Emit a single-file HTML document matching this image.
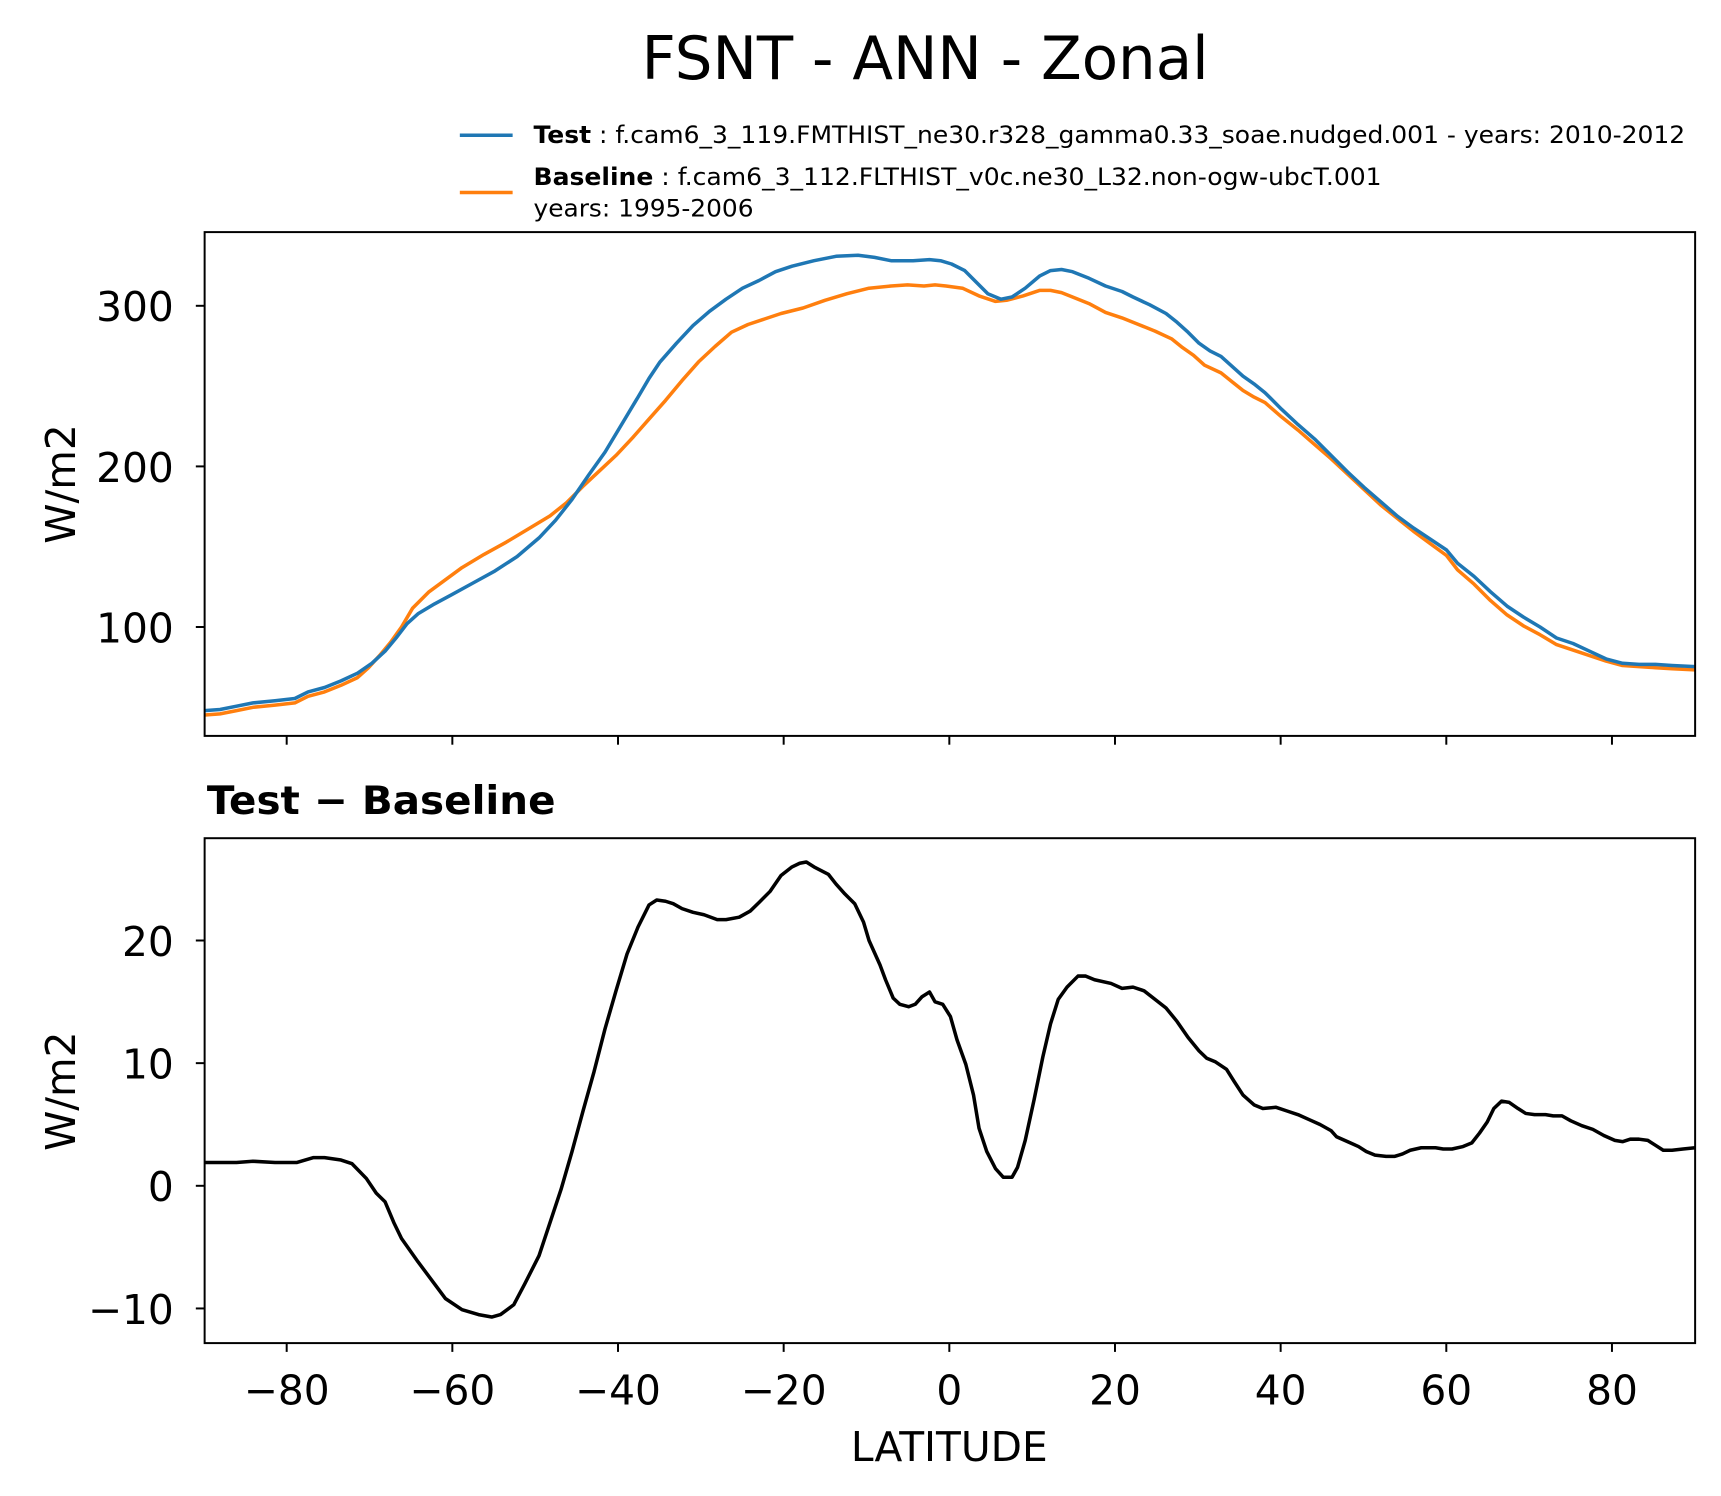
<!DOCTYPE html>
<html><head><meta charset="utf-8"><style>html,body{margin:0;padding:0;background:#fff}svg{display:block}</style></head>
<body>
<svg id="s" width="1721" height="1496" viewBox="0 0 1564.5 1360" xmlns="http://www.w3.org/2000/svg" font-family="'DejaVu Sans', 'Liberation Sans', sans-serif">
<rect width="1564.5" height="1360" fill="#fff"/>
<text x="841" y="72" font-size="54" text-anchor="middle">FSNT - ANN - Zonal</text>
<line x1="418" y1="123" x2="466" y2="123" stroke="#1f77b4" stroke-width="3.2"/>
<text x="485" y="130" font-size="21.5" textLength="1047" lengthAdjust="spacingAndGlyphs"><tspan font-weight="bold">Test</tspan> : f.cam6_3_119.FMTHIST_ne30.r328_gamma0.33_soae.nudged.001 - years: 2010-2012</text>
<line x1="418" y1="175" x2="466" y2="175" stroke="#ff7f0e" stroke-width="3.2"/>
<text x="485" y="168" font-size="21.5" textLength="771" lengthAdjust="spacingAndGlyphs"><tspan font-weight="bold">Baseline</tspan> : f.cam6_3_112.FLTHIST_v0c.ne30_L32.non-ogw-ubcT.001</text>
<text x="485" y="197" font-size="21.5" textLength="200" lengthAdjust="spacingAndGlyphs">years: 1995-2006</text>
<defs><clipPath id="c1"><rect x="186" y="211" width="1355" height="458"/></clipPath><clipPath id="c2"><rect x="186" y="762" width="1355" height="459"/></clipPath></defs>
<g id="top" clip-path="url(#c1)"></g>
<g id="bot" clip-path="url(#c2)"></g>
<rect x="186" y="211" width="1355" height="458" fill="none" stroke="#000" stroke-width="1.8"/>
<rect x="186" y="762" width="1355" height="459" fill="none" stroke="#000" stroke-width="1.8"/>
<g id="ticks" stroke="#000" stroke-width="1.8"></g>
<g id="lab" font-size="37"></g>
<text x="188" y="740" font-size="36" font-weight="bold" textLength="317" lengthAdjust="spacingAndGlyphs">Test − Baseline</text>
<text x="863" y="1328" font-size="37" text-anchor="middle">LATITUDE</text>
<text transform="translate(68,440) rotate(-90)" font-size="37" text-anchor="middle">W/m2</text>
<text transform="translate(68,992) rotate(-90)" font-size="37" text-anchor="middle">W/m2</text>
</svg>
<script>
var NS="http://www.w3.org/2000/svg";
function el(p,t,a,txt){var e=document.createElementNS(NS,t);for(var k in a)e.setAttribute(k,a[k]);if(txt!=null)e.textContent=txt;document.getElementById(p).appendChild(e);}
var blue=[186,646,200,645,215,642,230,639,250,637,268,635,280,629,295,625,310,619,325,612,338,603,350,592,360,580,370,567,380,558,395,549,410,541,430,530,450,519,470,506,490,489,505,473,520,454,535,432,550,411,565,386,580,361,590,344,600,329,615,312,630,296,645,283,660,272,675,262,690,255,705,247,720,242,740,237,760,233,780,232,795,234,810,237,830,237,845,236,855,237,865,240,877,246,888,257,898,267,910,272,920,270,932,262,945,251,955,246,965,245,975,247,990,253,1005,260,1020,265,1030,270,1045,277,1060,285,1070,293,1080,302,1090,312,1100,319,1110,324,1120,333,1130,342,1140,349,1150,357,1165,372,1180,386,1195,399,1210,414,1225,429,1240,443,1255,456,1270,469,1285,480,1300,490,1315,500,1325,512,1340,524,1355,538,1370,551,1385,561,1400,570,1415,580,1430,585,1445,592,1460,599,1475,603,1490,604,1505,604,1520,605,1541,606];
var orng=[186,650,200,649,215,646,230,643,250,641,268,639,280,633,295,629,310,623,325,616,335,607,345,596,355,584,365,570,375,553,390,538,405,527,420,516,440,504,460,493,480,481,500,469,515,457,530,442,545,428,560,414,575,398,590,381,605,364,620,346,635,329,650,315,665,302,680,295,695,290,710,285,730,280,750,273,770,267,790,262,810,260,825,259,840,260,850,259,860,260,875,262,890,269,905,274,915,273,930,269,945,264,955,264,965,266,975,270,990,276,1005,284,1020,289,1035,295,1050,301,1065,308,1075,316,1085,323,1095,332,1110,339,1120,347,1130,355,1140,361,1150,366,1165,379,1180,391,1195,404,1210,417,1225,431,1240,445,1255,459,1270,471,1285,483,1300,494,1315,505,1325,518,1340,531,1355,546,1370,559,1385,569,1400,577,1415,586,1430,591,1445,596,1460,601,1475,605,1490,606,1505,607,1520,608,1541,609];
var d=[186,1.9,215,1.9,230,2.0,250,1.9,270,1.9,285,2.3,295,2.3,310,2.1,320,1.8,333,0.6,342,-0.6,350,-1.3,358,-3,365,-4.3,380,-6.2,395,-8,405,-9.2,420,-10.1,435,-10.5,447,-10.7,455,-10.5,467,-9.7,477,-8,490,-5.7,500,-3,510,-0.3,520,2.8,530,6.1,540,9.3,550,12.8,560,15.9,570,18.9,580,21.1,590,22.9,597,23.3,605,23.2,612,23.0,620,22.6,630,22.3,640,22.1,652,21.7,660,21.7,672,21.9,682,22.4,690,23.1,700,24.0,710,25.3,720,26.0,727,26.3,733,26.4,740,26.0,753,25.4,760,24.6,768,23.8,777,23.0,785,21.5,790,20.0,800,18,805,16.8,812,15.3,818,14.8,826,14.6,832,14.8,838,15.4,845,15.8,850,15.0,857,14.8,864,13.8,870,11.9,878,9.9,885,7.4,890,4.7,897,2.8,905,1.4,912,0.7,920,0.7,925,1.5,932,3.7,940,7,948,10.5,955,13.2,962,15.2,970,16.2,980,17.1,987,17.1,995,16.8,1010,16.5,1020,16.1,1030,16.2,1040,15.9,1050,15.2,1060,14.5,1070,13.4,1080,12.1,1090,11.0,1097,10.4,1105,10.1,1115,9.5,1122,8.5,1130,7.4,1140,6.6,1148,6.3,1160,6.4,1170,6.1,1180,5.8,1190,5.4,1200,5.0,1210,4.5,1215,4.0,1225,3.6,1235,3.2,1242,2.8,1250,2.5,1260,2.4,1268,2.4,1275,2.6,1282,2.9,1292,3.1,1305,3.1,1312,3.0,1320,3.0,1330,3.2,1338,3.5,1345,4.3,1352,5.2,1358,6.3,1365,6.9,1372,6.8,1380,6.3,1387,5.9,1395,5.8,1405,5.8,1412,5.7,1420,5.7,1428,5.3,1438,4.9,1448,4.6,1458,4.1,1468,3.7,1475,3.6,1482,3.8,1490,3.8,1498,3.7,1505,3.3,1512,2.9,1520,2.9,1530,3.0,1541,3.1];
function pts(a,f){var s=[];for(var i=0;i<a.length;i+=2)s.push(a[i]+","+(f?f(a[i+1]):a[i+1]));return s.join(" ");}
el("top","polyline",{points:pts(orng),fill:"none",stroke:"#ff7f0e","stroke-width":3.2,"stroke-linejoin":"round"});
el("top","polyline",{points:pts(blue),fill:"none",stroke:"#1f77b4","stroke-width":3.2,"stroke-linejoin":"round"});
el("bot","polyline",{points:pts(d,function(v){return 1078-11.15*v;}),fill:"none",stroke:"#000","stroke-width":3.2,"stroke-linejoin":"round"});
for(var lat=-80;lat<=80;lat+=20){var x=863+7.53*lat;
 el("ticks","line",{x1:x,y1:669,x2:x,y2:677});
 el("ticks","line",{x1:x,y1:1221,x2:x,y2:1229});
 el("lab","text",{x:x,y:1277,"text-anchor":"middle"},lat<0?"\u2212"+(-lat):""+lat);}
[[100,570],[200,424],[300,278]].forEach(function(t){el("ticks","line",{x1:178,y1:t[1],x2:186,y2:t[1]});el("lab","text",{x:158,y:t[1]+14,"text-anchor":"end"},""+t[0]);});
[[-10,1189.5],[0,1078],[10,966.5],[20,855]].forEach(function(t){el("ticks","line",{x1:178,y1:t[1],x2:186,y2:t[1]});el("lab","text",{x:158,y:t[1]+14,"text-anchor":"end"},t[0]<0?"\u2212"+(-t[0]):""+t[0]);});
</script>
</body></html>
